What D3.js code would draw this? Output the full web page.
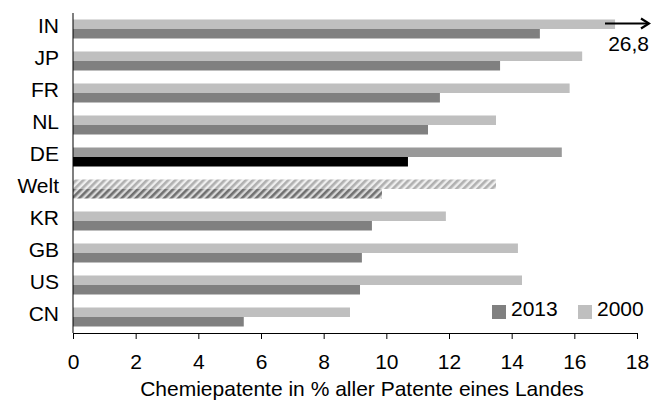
<!DOCTYPE html>
<html>
<head>
<meta charset="utf-8">
<script src="https://cdn.jsdelivr.net/npm/d3@7"></script>
<style>
  body { margin: 0; background: #fff; }
  text { font-family: "Liberation Sans", Arial, sans-serif; fill: #000; }
</style>
</head>
<body>
<div id="chart"></div>
<script>
// Daten
const countries = ["IN", "JP", "FR", "NL", "DE", "Welt", "KR", "GB", "US", "CN"];
const values2000 = [26.8, 16.25, 15.85, 13.5, 15.6, 13.5, 11.9, 14.2, 14.33, 8.84];
const values2013 = [14.9, 13.63, 11.71, 11.33, 10.69, 9.86, 9.54, 9.22, 9.16, 5.45];
const xTicks = [0, 2, 4, 6, 8, 10, 12, 14, 16, 18];
const years = ["2013", "2000"];
const cutValue = 17.3;   // IN 2000 wird abgeschnitten dargestellt
const cutLabel = "26,8";

const W = 651, H = 401;
const FS = "21px";
const svg = d3.select("#chart").append("svg").attr("width", W).attr("height", H);

const x = d3.scaleLinear().domain([0, 18]).range([73, 637]);
const y = d3.scaleBand().domain(countries).range([13, 333])
  .paddingInner(0.406).paddingOuter(0.203);
const half = y.bandwidth() / 2;

// Schraffur für "Welt"
const defs = svg.append("defs");
function hatch(id, bg, fg) {
  const p = defs.append("pattern").attr("id", id)
    .attr("patternUnits", "userSpaceOnUse")
    .attr("width", 5).attr("height", 5)
    .attr("patternTransform", "rotate(45)");
  p.append("rect").attr("width", 5).attr("height", 5).attr("fill", bg);
  p.append("rect").attr("width", 2.6).attr("height", 5).attr("fill", fg);
}
hatch("hatchLight", "#eeeeee", "#b0b0b0");
hatch("hatchDark", "#d8d8d8", "#707070");

const fill2000 = d => d === "DE" ? "#999999" : d === "Welt" ? "url(#hatchLight)" : "#bfbfbf";
const fill2013 = d => d === "DE" ? "#000000" : d === "Welt" ? "url(#hatchDark)" : "#808080";

const rows = countries.map((c, i) => ({ c, v00: values2000[i], v13: values2013[i] }));

svg.append("g").selectAll("rect").data(rows).join("rect")
  .attr("x", x(0))
  .attr("y", d => y(d.c))
  .attr("width", d => x(Math.min(d.v00, cutValue)) - x(0))
  .attr("height", half)
  .attr("fill", d => fill2000(d.c));

svg.append("g").selectAll("rect").data(rows).join("rect")
  .attr("x", x(0))
  .attr("y", d => y(d.c) + half)
  .attr("width", d => x(d.v13) - x(0))
  .attr("height", half)
  .attr("fill", d => fill2013(d.c));

// Pfeil für abgeschnittenen Wert
const arrowY = y("IN") + 4;
svg.append("line")
  .attr("x1", 605).attr("x2", 648)
  .attr("y1", arrowY).attr("y2", arrowY)
  .attr("stroke", "#000").attr("stroke-width", 2.2);
svg.append("path")
  .attr("d", `M641,${arrowY - 5} L649,${arrowY} L641,${arrowY + 5}`)
  .attr("fill", "none").attr("stroke", "#000").attr("stroke-width", 2.2);
svg.append("text")
  .attr("x", 649).attr("y", 51)
  .attr("text-anchor", "end").style("font-size", FS)
  .text(cutLabel);

// y-Achse
svg.append("line")
  .attr("x1", x(0)).attr("x2", x(0)).attr("y1", 13).attr("y2", 333)
  .attr("stroke", "#000");
svg.append("g").selectAll("text").data(countries).join("text")
  .attr("x", 59)
  .attr("y", d => y(d) + half + 4)
  .attr("text-anchor", "end")
  .style("font-size", FS)
  .text(d => d);

// x-Achse
const xAxis = svg.append("g")
  .attr("transform", "translate(0,333)")
  .call(d3.axisBottom(x).tickValues(xTicks).tickSize(6).tickPadding(15).tickFormat(d3.format("d")));
xAxis.select(".domain").attr("stroke", "#000");
xAxis.selectAll(".tick line").attr("stroke", "#000");
xAxis.selectAll(".tick text")
  .style("font-size", FS)
  .style("font-family", "'Liberation Sans', Arial, sans-serif")
  .attr("fill", "#000");

svg.append("text")
  .attr("x", 362).attr("y", 396)
  .attr("text-anchor", "middle")
  .style("font-size", FS)
  .text("Chemiepatente in % aller Patente eines Landes");

// Legende
const legend = svg.append("g");
const legendX = [492, 578];
const legendColors = ["#808080", "#bfbfbf"];
years.forEach((yr, i) => {
  legend.append("rect")
    .attr("x", legendX[i]).attr("y", 305)
    .attr("width", 14).attr("height", 14)
    .attr("fill", legendColors[i]);
  legend.append("text")
    .attr("x", legendX[i] + 19).attr("y", 316)
    .style("font-size", FS)
    .text(yr);
});
</script>
</body>
</html>
